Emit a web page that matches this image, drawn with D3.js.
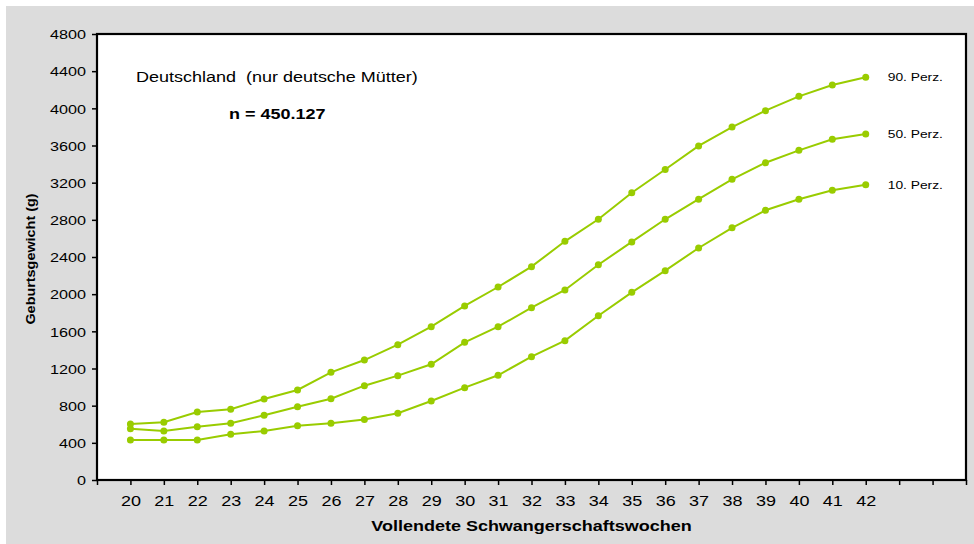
<!DOCTYPE html>
<html>
<head>
<meta charset="utf-8">
<script src="https://cdn.jsdelivr.net/npm/d3@7"></script>
<style>
  html, body { margin: 0; padding: 0; background: #ffffff; }
  svg { display: block; font-family: Arial, "Liberation Sans", sans-serif; }
  text { white-space: pre; }
</style>
</head>
<body>
<svg id="chart" width="974" height="544"></svg>
<script>
// ---- data ----
const weeks = [20,21,22,23,24,25,26,27,28,29,30,31,32,33,34,35,36,37,38,39,40,41,42];
const p10 = [430, 430, 430, 492, 527, 585, 610, 650, 718, 850, 994, 1127, 1327, 1500, 1768, 2020, 2253, 2497, 2714, 2903, 3021, 3118, 3178];
const p50 = [552, 527, 574, 610, 696, 789, 875, 1015, 1123, 1245, 1482, 1650, 1855, 2045, 2317, 2562, 2806, 3022, 3236, 3415, 3548, 3667, 3724];
const p90 = [603, 621, 732, 761, 872, 969, 1159, 1291, 1456, 1650, 1873, 2077, 2296, 2569, 2806, 3092, 3342, 3595, 3798, 3975, 4129, 4251, 4334];
const seriesNames = ["90. Perz.", "50. Perz.", "10. Perz."];
const yTicks = [0,400,800,1200,1600,2000,2400,2800,3200,3600,4000,4400,4800];
const xTickPositions = d3.range(19, 46);   // tick marks incl. empty slots
const titleText = "Deutschland  (nur deutsche Mütter)";
const nText = "n = 450.127";
const xTitle = "Vollendete Schwangerschaftswochen";
const yTitle = "Geburtsgewicht (g)";

// ---- layout ----
const svg = d3.select("#chart");
const W = 974, H = 544;
const mLeft = 97, mRight = 966, mTop = 34, mBottom = 480;
const SX = 1.2;           // horizontal text stretch of the original
const green = "#99cc00";

svg.append("rect").attr("x", 6).attr("y", 6).attr("width", W - 6).attr("height", H - 6)
  .attr("fill", "#dcdcdc");
svg.append("rect").attr("x", mLeft).attr("y", mTop).attr("width", mRight - mLeft).attr("height", mBottom - mTop)
  .attr("fill", "#ffffff");

const x = d3.scaleLinear().domain([19, 45]).range([mLeft, mRight]);
const y = d3.scaleLinear().domain([0, 4800]).range([mBottom, mTop]);

function stretched(sel, px, py) {
  sel.attr("transform", `translate(${px},${py}) scale(${SX},1)`);
  return sel;
}

// y axis
const yAxis = svg.append("g").attr("transform", `translate(${mLeft},0)`)
  .call(d3.axisLeft(y).tickValues(yTicks).tickSize(5).tickPadding(0).tickFormat(d3.format("d")));
yAxis.select(".domain").remove();
yAxis.selectAll(".tick line").attr("stroke", "#000").attr("stroke-width", 1.5);
yAxis.selectAll(".tick text").each(function() {
  const t = d3.select(this);
  t.attr("x", 0).attr("dy", "0.35em").attr("transform", `translate(-11,0) scale(${SX},1)`)
    .attr("font-size", 13.5).attr("fill", "#000").attr("font-family", "Arial, 'Liberation Sans', sans-serif");
});

// x axis
const xAxis = svg.append("g").attr("transform", `translate(0,${mBottom})`)
  .call(d3.axisBottom(x).tickValues(xTickPositions).tickSize(5).tickPadding(0)
    .tickFormat(d => weeks.includes(d) ? d : ""));
xAxis.select(".domain").remove();
xAxis.selectAll(".tick line").attr("stroke", "#000").attr("stroke-width", 1.5);
xAxis.selectAll(".tick text").each(function() {
  d3.select(this).attr("y", 0).attr("dy", 0).attr("transform", `translate(0,26) scale(${SX},1)`)
    .attr("font-size", 15).attr("fill", "#000").attr("font-family", "Arial, 'Liberation Sans', sans-serif");
});

// frame
svg.append("rect").attr("x", mLeft).attr("y", mTop).attr("width", mRight - mLeft).attr("height", mBottom - mTop)
  .attr("fill", "none").attr("stroke", "#000").attr("stroke-width", 2.2);

// series
const allSeries = [p90, p50, p10];
const line = d3.line().x((d, i) => x(weeks[i])).y(d => y(d));
allSeries.forEach((vals, si) => {
  svg.append("path").datum(vals).attr("d", line)
    .attr("fill", "none").attr("stroke", green).attr("stroke-width", 2);
  svg.append("g").selectAll("circle").data(vals).join("circle")
    .attr("cx", (d, i) => x(weeks[i])).attr("cy", d => y(d)).attr("r", 3.5)
    .attr("fill", green);
  const last = vals.length - 1;
  stretched(svg.append("text"), x(weeks[last]) + 22, y(vals[last]))
    .attr("dy", "0.35em").attr("font-size", 11.5).attr("fill", "#000").text(seriesNames[si]);
});

// annotations
stretched(svg.append("text"), 136, 82).attr("font-size", 15).attr("fill", "#000")
  .attr("xml:space", "preserve").text(titleText);
stretched(svg.append("text"), 229, 119).attr("font-size", 15).attr("font-weight", "bold").attr("fill", "#000").text(nText);

// axis titles
stretched(svg.append("text"), (mLeft + mRight) / 2 + 0, 531).attr("text-anchor", "middle")
  .attr("font-size", 15).attr("font-weight", "bold").attr("fill", "#000").text(xTitle);
svg.append("text").attr("transform", `translate(35,259) rotate(-90) scale(${SX},1)`)
  .attr("text-anchor", "middle").attr("font-size", 12).attr("font-weight", "bold").attr("fill", "#000").text(yTitle);
</script>
</body>
</html>
